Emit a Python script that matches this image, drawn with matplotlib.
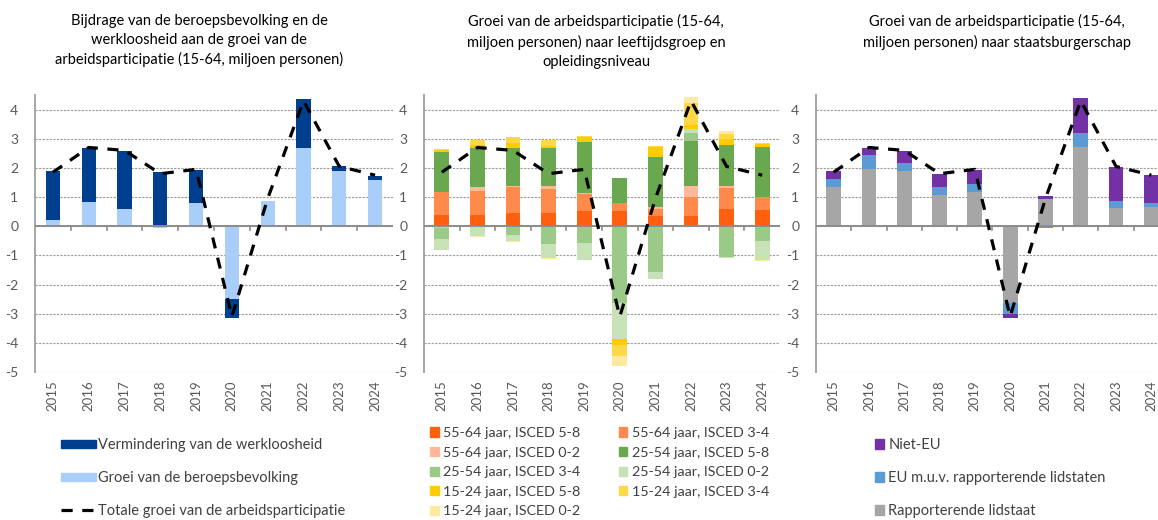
import numpy as np
import matplotlib
matplotlib.use("Agg")
import matplotlib.pyplot as plt
from matplotlib.patches import Patch
from matplotlib.lines import Line2D

#data
years = ["2015", "2016", "2017", "2018", "2019", "2020", "2021", "2022", "2023", "2024"]
total_growth = [1.85, 2.7, 2.6, 1.8, 1.95, -3.1, 0.95, 4.3, 2.05, 1.75]

#panel 1: labour force vs unemployment
unemployment_reduction = [1.68, 1.85, 2.0, 1.85, 1.15, -0.67, 0.0, 1.68, 0.15, 0.15]
labour_force_growth = [0.2, 0.84, 0.58, -0.06, 0.78, -2.48, 0.86, 2.69, 1.9, 1.58]

#panel 2: age group and education level
p55_high = [0.38, 0.38, 0.46, 0.46, 0.52, 0.52, 0.35, 0.35, 0.58, 0.55]
p55_mid = [0.78, 0.82, 0.87, 0.81, 0.58, 0.26, 0.23, 0.65, 0.72, 0.45]
p55_low = [-0.05, 0.15, 0.05, 0.1, 0.05, -0.03, 0.08, 0.38, 0.08, 0.0]
p25_high = [1.4, 1.34, 1.31, 1.32, 1.73, 0.87, 1.73, 1.54, 1.41, 1.73]
p25_mid = [-0.4, 0.0, -0.31, -0.6, -0.58, -2.62, -1.56, 0.28, -1.06, -0.5]
p25_low = [-0.35, -0.33, -0.21, -0.5, -0.57, -1.21, -0.26, 0.12, -0.04, -0.65]
p15_high = [0.04, 0.1, 0.17, 0.05, 0.17, -0.2, 0.34, 0.14, 0.21, 0.09]
p15_mid = [0.05, 0.18, 0.19, 0.2, 0.03, -0.39, 0.03, 0.77, 0.17, 0.03]
p15_low = [-0.02, -0.03, -0.02, -0.02, -0.02, -0.33, 0.0, 0.21, 0.08, -0.05]

#panel 3: citizenship
reporting_state = [1.36, 1.97, 1.88, 1.07, 1.19, -2.62, 0.92, 2.71, 0.63, 0.67]
other_eu = [0.25, 0.46, 0.29, 0.29, 0.25, -0.38, -0.05, 0.49, 0.23, 0.14]
non_eu = [0.27, 0.26, 0.42, 0.43, 0.5, -0.15, 0.12, 1.19, 1.16, 0.93]

#styling
line_label = "Totale groei van de arbeidsparticipatie"
grey_txt = "#595959"
legend_txt = "#404040"
plt.rcParams['font.family'] = ['Lato', 'DejaVu Sans']
plt.rcParams['axes.unicode_minus'] = False

fig = plt.figure(figsize=(11.58, 5.2), dpi=100)
W, H = 1158, 520
bottom = 1 - 372 / H
height = (372 - 95) / H

def make_axes(x0, x1):
    ax = fig.add_axes([x0 / W, bottom, (x1 - x0) / W, height])
    return ax

def stacked_panel(ax, series, colors, labels, width=0.42):
    x = np.arange(len(years))
    pos = np.zeros(len(years))
    neg = np.zeros(len(years))
    for vals, col, lab in zip(series, colors, labels):
        vals = np.array(vals, dtype=float)
        base = np.where(vals >= 0, pos, neg)
        ax.bar(x, vals, width, bottom=base, color=col, label=lab, linewidth=0)
        pos = pos + np.clip(vals, 0, None)
        neg = neg + np.clip(vals, None, 0)
    ax.plot(x, total_growth, color="black", lw=2.3, linestyle=(0, (3.5, 3)),
            label=line_label, zorder=5)

    ax.set_xlim(-0.5, len(years) - 0.5)
    ax.set_ylim(-5, 4.5)
    ax.set_yticks(range(-5, 5))
    ax.yaxis.grid(True, color="#9a9a9a", linestyle=(0, (2, 1.2)), lw=0.8)
    ax.set_axisbelow(True)
    for s in ["top", "right", "bottom"]:
        ax.spines[s].set_visible(False)
    ax.spines["left"].set_color("#a6a6a6")
    ax.spines["left"].set_linewidth(1.4)
    ax.tick_params(axis="y", length=0, pad=12, labelsize=10, labelcolor=grey_txt)

    #category axis at zero with ticks between the bars
    ax.axhline(0, color="#8c8c8c", lw=1.4, zorder=3)
    ax.set_xticks([])
    for xm in x[:-1] + 0.5:
        ax.plot([xm, xm], [0, -0.12], color="#8c8c8c", lw=1.2, zorder=3)
    sec = ax.secondary_xaxis("bottom")
    sec.set_xticks(x)
    sec.set_xticklabels(years, rotation=90, fontsize=9.5, color=grey_txt)
    sec.tick_params(length=0, pad=6)
    sec.spines["bottom"].set_visible(False)

#Panel 1
ax1 = make_axes(35, 393)
stacked_panel(ax1, [labour_force_growth, unemployment_reduction],
              ["#AACEFA", "#003F8E"],
              ["Groei van de beroepsbevolking", "Vermindering van de werkloosheid"],
              width=0.4)

#Panel 2
labels2 = ["55-64 jaar, ISCED 5-8", "55-64 jaar, ISCED 3-4", "55-64 jaar, ISCED 0-2",
           "25-54 jaar, ISCED 5-8", "25-54 jaar, ISCED 3-4", "25-54 jaar, ISCED 0-2",
           "15-24 jaar, ISCED 5-8", "15-24 jaar, ISCED 3-4", "15-24 jaar, ISCED 0-2"]
colors2 = ["#FF5F0F", "#FF8A4C", "#FFB899", "#6AA84F", "#9BC987", "#C8E2B8",
           "#FFCC00", "#FFD84A", "#FFE8A0"]
ax2 = make_axes(424, 780)
stacked_panel(ax2, [p55_high, p55_mid, p55_low, p25_high, p25_mid, p25_low,
                    p15_high, p15_mid, p15_low], colors2, labels2)

#Panel 3
ax3 = make_axes(816, 1169)
labels3 = ["Rapporterende lidstaat", "EU m.u.v. rapporterende lidstaten", "Niet-EU"]
colors3 = ["#A6A6A6", "#5B9BD5", "#7232A6"]
stacked_panel(ax3, [reporting_state, other_eu, non_eu], colors3, labels3)

#titles
titles = [
    (199, "Bijdrage van de beroepsbevolking en de\nwerkloosheid aan de groei van de\narbeidsparticipatie (15-64, miljoen personen)"),
    (596, "Groei van de arbeidsparticipatie (15-64,\nmiljoen personen) naar leeftijdsgroep en\nopleidingsniveau"),
    (997, "Groei van de arbeidsparticipatie (15-64,\nmiljoen personen) naar staatsburgerschap"),
]
for xc, t in titles:
    fig.text(xc / W, 1 - 14 / H, t, ha="center", va="top", fontsize=10.5,
             linespacing=1.45, color="black")

#legends
h1 = [Patch(color="#003F8E"), Patch(color="#AACEFA"),
      Line2D([0], [0], color="black", lw=2.3, linestyle=(0, (3.5, 3)))]
l1 = ["Vermindering van de werkloosheid", "Groei van de beroepsbevolking", line_label]
fig.legend(h1, l1, loc="upper left", bbox_to_anchor=(48 / W, 1 - 425 / H),
           frameon=False, fontsize=10.5, handlelength=2.4, handleheight=0.45,
           handletextpad=0.1, labelspacing=1.3, labelcolor=legend_txt)

h2 = [Patch(color=c) for c in colors2]
#Excel fills the legend row by row
order = [0, 2, 4, 6, 8, 1, 3, 5, 7]
fig.legend([h2[i] for i in order], [labels2[i] for i in order], loc="upper left",
           bbox_to_anchor=(420 / W, 1 - 417 / H), ncol=2, frameon=False,
           fontsize=10.3, handlelength=0.6, handleheight=0.6, handletextpad=0.3,
           labelspacing=0.53, columnspacing=2.7, labelcolor=legend_txt,
           borderaxespad=0.3)

h3 = [Patch(color=c) for c in colors3[::-1]]
fig.legend(h3, labels3[::-1], loc="upper left", bbox_to_anchor=(862 / W, 1 - 425 / H),
           frameon=False, fontsize=10.5, handlelength=0.6, handleheight=0.6,
           handletextpad=0.3, labelspacing=1.3, labelcolor=legend_txt)

plt.savefig("out.png", dpi=100)
